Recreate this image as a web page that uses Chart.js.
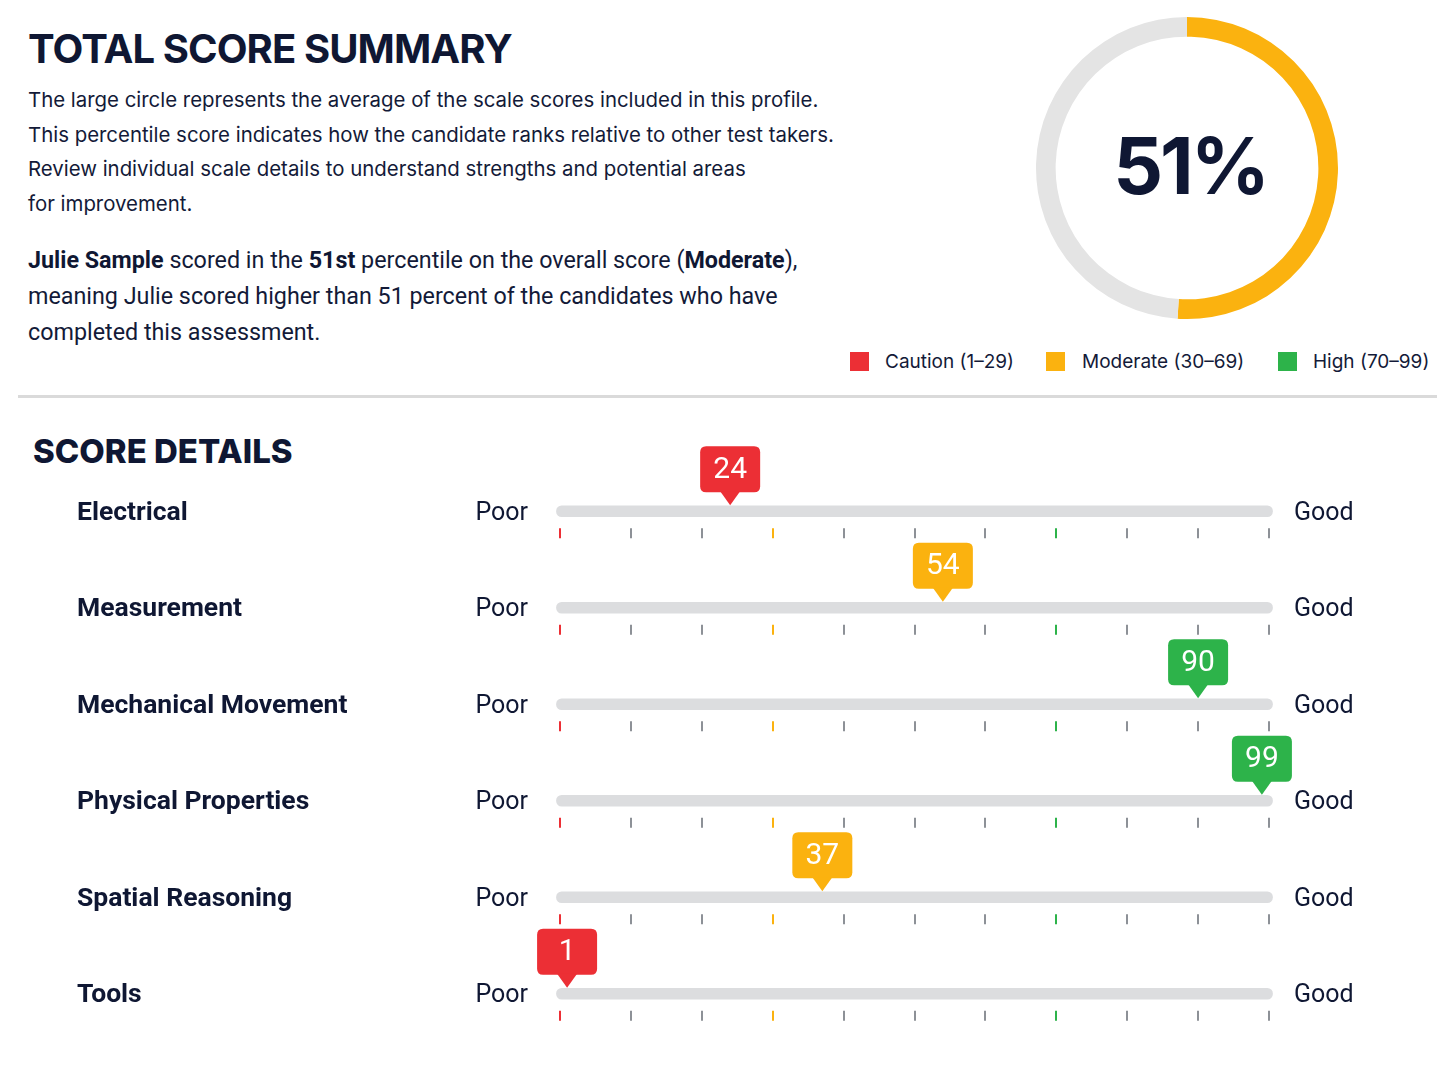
<!DOCTYPE html>
<html>
<head>
<meta charset="utf-8">
<script src="https://cdn.jsdelivr.net/npm/chart.js@4.4.1/dist/chart.umd.min.js"></script>
<style>
  body { margin: 0; width: 1455px; height: 1081px; background: #fff; position: relative; overflow: hidden;
         font-family: Inter, "Noto Sans", sans-serif; color: #131a38; }
  .title { position: absolute; left: 28px; top: 22px; margin: 0; font-size: 40px; line-height: 54px; font-weight: 700; letter-spacing: -0.9px; color: #0f1733; }
  .intro { position: absolute; left: 28px; top: 83px; margin: 0; font-size: 20.4px; line-height: 34.5px; }
  .result { position: absolute; left: 28px; top: 242px; margin: 0; font-family: Roboto, sans-serif; font-size: 23.3px; line-height: 36px; }
  .result b { font-weight: 700; color: #0f1733; }
  .legend { position: absolute; top: 352px; left: 0; font-size: 19px; }
  .legend span { position: absolute; white-space: nowrap; line-height: 20px; }
  .legend i { position: absolute; width: 19px; height: 19px; }
  .rule { position: absolute; left: 18px; top: 395px; width: 1419px; height: 3px; background: #dadada; }
  .sub { position: absolute; left: 33px; top: 431px; margin: 0; font-size: 33px; line-height: 40px; font-weight: 800; color: #0f1733; }
  #overall { position: absolute; left: 1036px; top: 17px; }
  #details { position: absolute; left: 0; top: 400px; }
</style>
</head>
<body>
<h1 class="title">TOTAL SCORE SUMMARY</h1>
<p class="intro">The large circle represents the average of the scale scores included in this profile.<br>
This percentile score indicates how the candidate ranks relative to other test takers.<br>
Review individual scale details to understand strengths and potential areas<br>
for improvement.</p>
<p class="result"><b>Julie Sample</b> scored in the <b>51st</b> percentile on the overall score (<b>Moderate</b>),<br>
meaning Julie scored higher than 51 percent of the candidates who have<br>
completed this assessment.</p>
<div class="legend" id="legend"></div>
<div class="rule"></div>
<h2 class="sub">SCORE DETAILS</h2>
<canvas id="overall" width="302" height="302"></canvas>
<canvas id="details" width="1455" height="681"></canvas>
<script>
const overallScore = 51;
const rowNames = ["Electrical", "Measurement", "Mechanical Movement", "Physical Properties", "Spatial Reasoning", "Tools"];
const scores = [24, 54, 90, 99, 37, 1];
const scaleTicks = [0, 10, 20, 30, 40, 50, 60, 70, 80, 90, 100];
const bandNames = ["Caution (1–29)", "Moderate (30–69)", "High (70–99)"];
const bandStarts = [0, 30, 70];
const bandColors = ["#ec2f35", "#fbb20f", "#2db34a"];

const navy = "#0f1733";

function bandColor(v) {
  if (v >= bandStarts[2]) return bandColors[2];
  if (v >= bandStarts[1]) return bandColors[1];
  return bandColors[0];
}

// legend (html)
const legendPos = [[850, 885], [1046, 1082], [1278, 1313]];
const legend = document.getElementById("legend");
bandNames.forEach((name, i) => {
  const sq = document.createElement("i");
  sq.style.left = legendPos[i][0] + "px";
  sq.style.top = "0px";
  sq.style.background = bandColors[i];
  legend.appendChild(sq);
  const t = document.createElement("span");
  t.textContent = name;
  t.style.left = legendPos[i][1] + "px";
  legend.appendChild(t);
});

const centerText = {
  id: "centerText",
  afterDraw(chart) {
    const ctx = chart.ctx;
    const a = chart.chartArea;
    ctx.save();
    ctx.fillStyle = navy;
    ctx.font = "700 78px Inter, sans-serif";
    ctx.letterSpacing = "-3px";
    ctx.textAlign = "center";
    ctx.textBaseline = "middle";
    ctx.fillText(overallScore + "%", (a.left + a.right) / 2 + 3, (a.top + a.bottom) / 2 + 3);
    ctx.restore();
  }
};

new Chart(document.getElementById("overall"), {
  type: "doughnut",
  data: {
    labels: ["Score", "Rest"],
    datasets: [{
      data: [overallScore, 100 - overallScore],
      backgroundColor: [bandColor(overallScore), "#e4e4e4"],
      borderWidth: 0
    }]
  },
  options: {
    responsive: false,
    animation: false,
    events: [],
    cutout: "87%",
    plugins: { legend: { display: false }, tooltip: { enabled: false } }
  },
  plugins: [centerText]
});

function roundRect(ctx, x, y, w, h, r) {
  ctx.moveTo(x + r, y);
  ctx.lineTo(x + w - r, y);
  ctx.quadraticCurveTo(x + w, y, x + w, y + r);
  ctx.lineTo(x + w, y + h - r);
  ctx.quadraticCurveTo(x + w, y + h, x + w - r, y + h);
  ctx.lineTo(x + r, y + h);
  ctx.quadraticCurveTo(x, y + h, x, y + h - r);
  ctx.lineTo(x, y + r);
  ctx.quadraticCurveTo(x, y, x + r, y);
}

const rowDecor = {
  id: "rowDecor",
  afterDatasetsDraw(chart) {
    const ctx = chart.ctx;
    const xs = chart.scales.x;
    const ys = chart.scales.y;
    ctx.save();
    rowNames.forEach((name, i) => {
      const y = ys.getPixelForValue(i);

      // tick marks under the track
      scaleTicks.forEach(t => {
        const x = xs.getPixelForValue(t);
        ctx.fillStyle = bandStarts.includes(t) ? bandColors[bandStarts.indexOf(t)] : "#8d9197";
        ctx.fillRect(Math.round(x) - 1, y + 17, 2, 10);
      });

      // texts
      ctx.textBaseline = "middle";
      ctx.fillStyle = navy;
      ctx.textAlign = "left";
      ctx.font = "700 26.5px Roboto, sans-serif";
      ctx.fillText(name, 77, y + 2);
      ctx.font = "400 25px Roboto, sans-serif";
      ctx.textAlign = "right";
      ctx.fillText("Poor", 528, y + 2);
      ctx.textAlign = "left";
      ctx.fillText("Good", 1294, y + 2);

      // score bubble
      const v = scores[i];
      const x = xs.getPixelForValue(v);
      const w = 60, h = 46;
      const top = y - 65;
      ctx.fillStyle = bandColor(v);
      ctx.beginPath();
      roundRect(ctx, x - w / 2, top, w, h, 6);
      ctx.fill();
      ctx.beginPath();
      ctx.moveTo(x - 10, top + h - 1);
      ctx.lineTo(x + 10, top + h - 1);
      ctx.lineTo(x, y - 6);
      ctx.closePath();
      ctx.fill();
      ctx.fillStyle = "#fff";
      ctx.textAlign = "center";
      ctx.font = "400 30px Roboto, sans-serif";
      ctx.fillText(String(v), x, top + h / 2 + 1);
    });
    ctx.restore();
  }
};

new Chart(document.getElementById("details"), {
  type: "bar",
  data: {
    labels: rowNames,
    datasets: [{
      data: rowNames.map(() => [-0.5, 100.5]),
      backgroundColor: "#dcdddf",
      barThickness: 11,
      borderRadius: 6,
      borderSkipped: false,
      clip: false
    }]
  },
  options: {
    indexAxis: "y",
    responsive: false,
    animation: false,
    events: [],
    layout: { padding: { left: 560, right: 186, top: 63, bottom: 39 } },
    plugins: { legend: { display: false }, tooltip: { enabled: false } },
    scales: {
      x: { type: "linear", min: 0, max: 100, display: false },
      y: { display: false }
    }
  },
  plugins: [rowDecor]
});
</script>
</body>
</html>
